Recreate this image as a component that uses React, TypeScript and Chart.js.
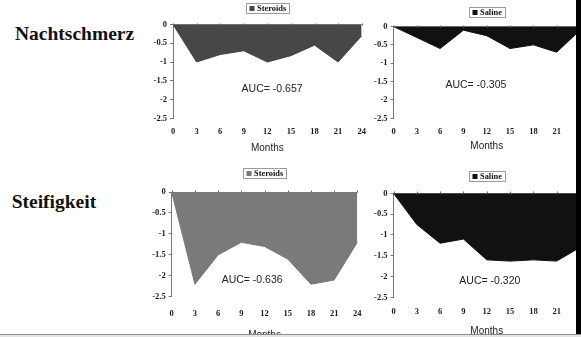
import React, { useEffect, useRef } from 'react';
import { Chart, registerables } from 'chart.js';

Chart.register(...registerables);

// ---- data ----
const months = ['0', '3', '6', '9', '12', '15', '18', '21', '24'];
const nachtSteroids = [0, -1.0, -0.8, -0.7, -1.0, -0.83, -0.55, -1.0, -0.3];
const nachtSaline = [0, -0.3, -0.6, -0.1, -0.25, -0.6, -0.5, -0.7, -0.1];
const steifSteroids = [0, -2.2, -1.5, -1.2, -1.3, -1.6, -2.2, -2.1, -1.2];
const steifSaline = [0, -0.75, -1.2, -1.1, -1.6, -1.63, -1.6, -1.63, -1.3];
const seriesNames = ['Steroids', 'Saline'];
const rowLabels = ['Nachtschmerz', 'Steifigkeit'];
const aucTexts = ['AUC= -0.657', 'AUC= -0.305', 'AUC= -0.636', 'AUC= -0.320'];
const yMin = -2.5;
const yMax = 0;
const yStep = 0.5;
const xTitle = 'Months';

const SERIF = '"Times New Roman", "Liberation Serif", serif';
const SANS = 'Arial, "Liberation Sans", sans-serif';

type Panel = {
  values: number[];
  name: string;
  color: string;
  auc: string;
  aucMonth: number;
  aucValue: number;
  L: number;
  R: number;
  T: number;
  B: number;
  tickPad: number;
  titleOff: number;
  legendOff: number;
};

const panels: Panel[] = [
  { values: nachtSteroids, name: seriesNames[0], color: '#474747', auc: aucTexts[0], aucMonth: 12.6, aucValue: -1.72,
    L: 173, R: 361.7, T: 24.5, B: 118.3, tickPad: 8.3, titleOff: 30, legendOff: 21.5 },
  { values: nachtSaline, name: seriesNames[1], color: '#111111', auc: aucTexts[1], aucMonth: 10.6, aucValue: -1.59,
    L: 393.5, R: 580, T: 26.5, B: 118.3, tickPad: 8.3, titleOff: 28.4, legendOff: 19.5 },
  { values: steifSteroids, name: seriesNames[0], color: '#7a7a7a', auc: aucTexts[2], aucMonth: 10.4, aucValue: -2.11,
    L: 171.7, R: 358.5, T: 192, B: 296.8, tickPad: 11.4, titleOff: 38.2, legendOff: 24 },
  { values: steifSaline, name: seriesNames[1], color: '#111111', auc: aucTexts[3], aucMonth: 12.4, aucValue: -2.11,
    L: 393.5, R: 580, T: 193.3, B: 297.3, tickPad: 9.3, titleOff: 34.4, legendOff: 22.3 },
];

const overlayPlugin = {
  id: 'overlay',
  afterDatasetsDraw(chart: any, _args: any, opts: any) {
    const { ctx, chartArea: ca, scales } = chart;
    const xs = scales.x;
    const ys = scales.y;
    ctx.save();
    // small tick marks on zero line
    ctx.strokeStyle = '#666';
    ctx.lineWidth = 1;
    const y0 = Math.round(ys.getPixelForValue(0)) + 0.5;
    for (let i = 0; i < months.length; i++) {
      const px = Math.round(xs.getPixelForValue(i)) + 0.5;
      ctx.beginPath();
      ctx.moveTo(px, y0);
      ctx.lineTo(px, y0 - 2);
      ctx.stroke();
    }
    // AUC annotation
    ctx.font = `10.5px ${SANS}`;
    ctx.fillStyle = '#222';
    ctx.textAlign = 'center';
    ctx.textBaseline = 'middle';
    ctx.fillText(opts.auc, xs.getPixelForValue(opts.aucMonth / 3), ys.getPixelForValue(opts.aucValue));
    // legend box
    ctx.font = `bold 8.4px ${SERIF}`;
    const tw = ctx.measureText(opts.name).width;
    const bw = Math.round(tw + 14);
    const bh = 10;
    const cx = (ca.left + ca.right) / 2;
    const bx = Math.round(cx - bw / 2) + 0.5;
    const by = Math.round(ca.top - opts.legendOff) + 0.5;
    ctx.fillStyle = '#fff';
    ctx.fillRect(bx, by, bw, bh);
    ctx.strokeStyle = '#9a9a9a';
    ctx.strokeRect(bx, by, bw, bh);
    ctx.fillStyle = opts.color;
    ctx.fillRect(bx + 3, by + 2.5, 5, 5);
    ctx.fillStyle = '#111';
    ctx.textAlign = 'left';
    ctx.fillText(opts.name, bx + 10.5, by + bh / 2 + 0.5);
    ctx.restore();
  },
};

function PanelChart({ p }: { p: Panel }) {
  const ref = useRef<HTMLCanvasElement>(null);
  const CL = Math.floor(p.L) - 40;
  const CT = Math.floor(p.T) - 30;
  const XH = p.titleOff + 6;
  const CW = Math.ceil(p.R) + 14 - CL;
  const CH = Math.ceil(p.B + XH) + 3 - CT;

  useEffect(() => {
    const tickFont = { family: SERIF, size: 8.5, weight: 'bold' as const };
    const chart = new Chart(ref.current!, {
      type: 'line',
      data: {
        labels: months,
        datasets: [
          {
            label: p.name,
            data: p.values,
            borderColor: p.color,
            backgroundColor: p.color,
            borderWidth: 1,
            fill: 'origin',
            pointRadius: 0,
            tension: 0,
          },
        ],
      },
      options: {
        responsive: false,
        animation: false,
        devicePixelRatio: 1,
        events: [],
        layout: {
          padding: {
            left: 0,
            top: p.T - CT,
            right: CL + CW - p.R,
            bottom: CT + CH - p.B - XH,
          },
        },
        plugins: {
          legend: { display: false },
          tooltip: { enabled: false },
          overlay: {
            auc: p.auc,
            aucMonth: p.aucMonth,
            aucValue: p.aucValue,
            name: p.name,
            color: p.color,
            legendOff: p.legendOff,
          },
        } as any,
        scales: {
          x: {
            type: 'category',
            offset: false,
            grid: { display: false, drawTicks: false, tickLength: 0 },
            border: { display: false },
            ticks: { autoSkip: false, maxRotation: 0, minRotation: 0, padding: p.tickPad, font: tickFont, color: '#1a1a1a' },
            title: { display: true, text: xTitle, font: { family: SANS, size: 10 }, color: '#222', padding: 0 },
            afterFit: (s: any) => {
              s.height = XH;
            },
          },
          y: {
            min: yMin,
            max: yMax,
            ticks: {
              stepSize: yStep,
              padding: 3,
              font: tickFont,
              color: '#1a1a1a',
              callback: (v: any) => String(Math.round(Number(v) * 10) / 10),
            },
            grid: {
              color: (c: any) => (c.tick && c.tick.value === 0 ? '#777' : 'rgba(0,0,0,0)'),
              tickColor: '#777',
              tickLength: 3,
              drawTicks: true,
            },
            border: { display: true, color: '#777' },
            afterFit: (s: any) => {
              s.width = p.L - CL;
            },
          },
        },
      },
      plugins: [overlayPlugin as any],
    });
    return () => chart.destroy();
  }, []);

  return (
    <canvas
      ref={ref}
      width={CW}
      height={CH}
      style={{ position: 'absolute', left: CL, top: CT, width: CW, height: CH, display: 'block' }}
    />
  );
}

export default function App() {
  const labelStyle: React.CSSProperties = {
    position: 'absolute',
    fontFamily: SERIF,
    fontWeight: 'bold',
    fontSize: 19.5,
    lineHeight: '19.5px',
    color: '#111',
    whiteSpace: 'nowrap',
  };
  return (
    <div
      style={{
        position: 'fixed',
        left: 0,
        top: 0,
        width: 581,
        height: 337,
        overflow: 'hidden',
        background: '#fff',
      }}
    >
      <div style={{ ...labelStyle, left: 15, top: 24.4 }}>{rowLabels[0]}</div>
      <div style={{ ...labelStyle, left: 11.7, top: 191.7 }}>{rowLabels[1]}</div>
      {panels.map((p, i) => (
        <PanelChart key={i} p={p} />
      ))}
      <div style={{ position: 'absolute', left: 576, top: 0, width: 5, height: 334, background: '#000', zIndex: 2 }} />
      <div
        style={{
          position: 'absolute',
          left: 0,
          top: 334,
          width: 581,
          height: 3,
          background: '#e4e4e4',
          borderTop: '1px solid #8a8a8a',
          zIndex: 2,
        }}
      />
    </div>
  );
}
